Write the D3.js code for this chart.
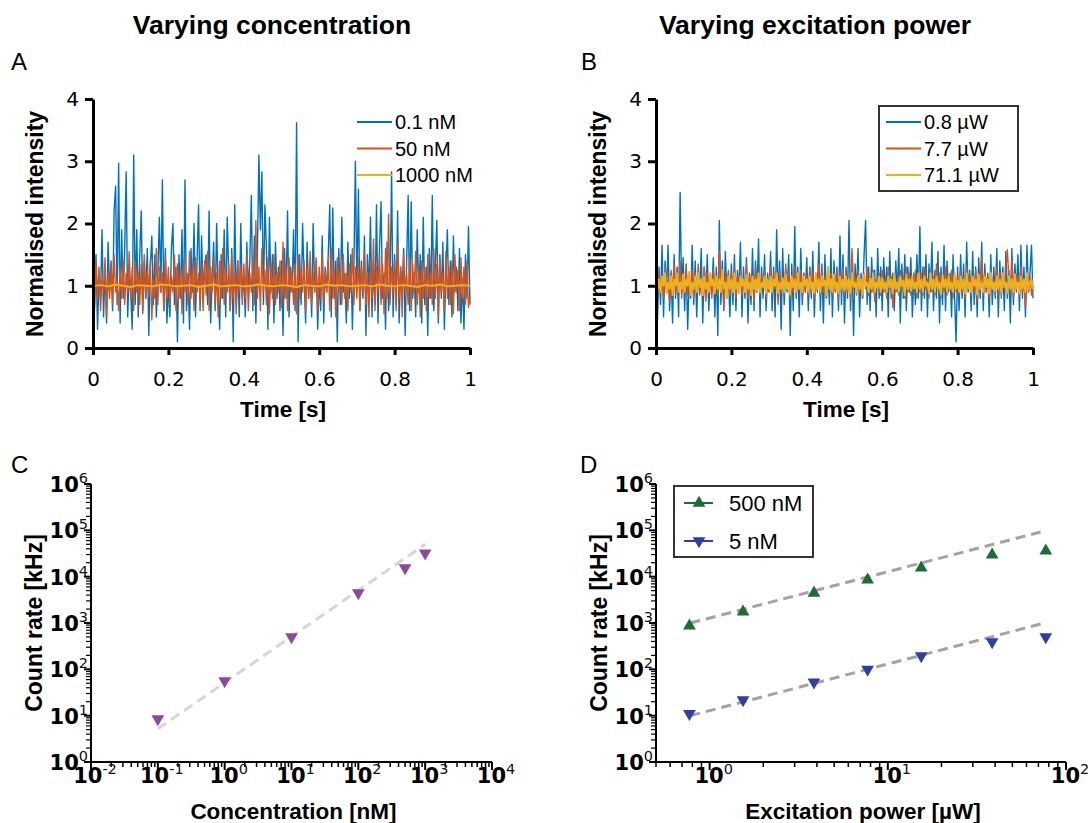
<!DOCTYPE html>
<html>
<head>
<meta charset="utf-8">
<script src="https://cdn.jsdelivr.net/npm/d3@7"></script>
<style>
  body { margin: 0; background: #fff; }
  text { font-family: "Liberation Sans", Arial, Helvetica, sans-serif; }
  text.tick-lbl, .tick text { font-family: "DejaVu Sans", Verdana, sans-serif; }
</style>
</head>
<body>
<svg id="fig" width="1088" height="823"></svg>
<script>
// ---- data ----
var timeTicks = [0, 0.2, 0.4, 0.6, 0.8, 1];
var timeTickLabels = ["0", "0.2", "0.4", "0.6", "0.8", "1"];
var intensityTicks = [0, 1, 2, 3, 4];
var intensityTickLabels = ["0", "1", "2", "3", "4"];

// panel A, normalised intensity traces over 1 s
var concNames = ["0.1 nM", "50 nM", "1000 nM"];
var conc01 = [
  1.2,0.6,1.5,0.3,1.1,0.8,1.9,0.5,1.3,0.4,1.7,0.9,1.4,0.6,2.2,2.6,0.7,2.97,0.4,1.9,0.8,1.6,2.83,0.5,1.2,
  0.9,0.3,3.1,0.7,1.9,0.5,1.5,2.2,0.6,1.4,0.8,1.6,0.2,1.3,1.8,0.7,1.5,0.5,1.2,2.1,0.9,2.7,0.6,1.6,0.4,
  1.0,0.5,1.6,2.0,0.7,1.3,0.1,1.5,0.8,1.9,0.4,2.7,0.6,1.2,0.3,1.6,0.9,2.0,0.5,1.4,2.3,0.6,1.8,0.9,1.3,
  1.5,0.7,2.2,0.4,1.1,1.7,0.6,2.0,0.9,0.3,1.5,0.8,1.9,0.5,2.1,1.2,0.6,1.6,0.1,2.3,0.7,1.4,0.5,2.0,0.8,
  1.2,0.5,1.7,0.9,1.4,2.45,0.6,1.8,0.4,1.5,3.1,1.9,2.83,0.7,2.3,1.6,0.3,2.1,0.9,1.5,0.4,1.7,0.8,1.3,0.6,
  1.4,0.2,1.6,0.8,2.2,0.5,1.3,0.9,1.9,0.6,3.62,0.1,1.5,0.7,2.0,1.1,0.4,1.7,0.8,1.3,0.5,2.0,0.9,1.4,0.3,
  1.1,0.6,1.8,0.4,1.3,0.9,1.5,2.3,0.5,2.25,0.8,1.4,0.1,1.6,0.7,2.1,0.9,1.2,0.4,1.7,0.8,1.5,0.3,1.3,3.0,
  0.9,2.55,0.6,1.4,0.8,1.8,0.2,1.5,0.9,2.1,0.5,1.3,0.7,2.3,0.4,1.6,2.35,0.8,1.2,0.3,1.7,0.6,1.0,2.83,0.5,
  1.5,0.7,2.2,0.4,1.3,0.9,1.6,0.2,1.4,2.45,0.6,2.35,0.8,1.2,0.5,1.9,0.9,1.5,0.4,2.1,0.7,1.3,0.2,1.6,0.8,
  2.45,0.6,1.3,2.05,0.4,1.5,0.8,1.7,0.3,1.2,1.9,0.7,1.4,0.5,1.8,0.9,1.3,0.6,1.6,0.4,1.1,0.3,1.5,0.8,1.95,0.7
];
var conc50 = [
  1.2,0.7,1.4,0.8,1.3,0.6,1.1,0.9,1.45,0.5,1.2,0.8,1.35,0.7,1.5,0.9,1.1,0.6,1.3,0.8,1.4,0.7,1.2,0.9,1.55,
  0.8,1.3,0.6,1.4,0.9,1.2,0.7,1.35,0.55,1.5,0.8,1.25,0.9,1.4,0.45,1.1,0.8,1.6,0.7,1.3,0.9,1.2,0.6,1.45,0.8,
  1.3,0.7,1.15,0.9,1.5,0.6,1.35,0.8,1.25,0.55,1.4,0.9,1.2,0.7,1.55,0.8,1.3,0.6,1.45,0.9,1.2,0.75,1.35,0.6,1.4,
  0.85,1.55,0.6,1.3,0.9,1.45,0.7,1.2,0.5,1.4,0.8,1.6,0.7,1.25,0.9,1.35,0.6,1.5,0.8,1.2,0.55,1.4,0.9,1.3,0.7,
  1.35,0.8,1.5,0.6,1.2,0.9,1.4,0.7,2.05,0.8,1.3,0.6,1.6,0.9,1.25,0.7,1.45,0.55,1.3,0.8,1.5,0.7,1.2,0.9,1.4,
  0.65,1.7,0.8,1.3,0.6,1.45,0.9,1.2,0.7,1.35,0.55,1.5,0.8,1.25,0.9,1.4,0.6,1.3,0.8,1.55,0.7,1.2,0.9,1.45,0.6,
  1.3,0.8,1.5,0.7,1.2,0.9,1.4,0.6,1.6,0.8,1.25,0.5,1.45,0.9,1.3,0.7,1.5,0.8,1.2,0.6,1.35,0.9,1.6,0.7,1.3,
  0.8,1.45,0.6,1.3,0.9,1.55,0.7,1.2,0.5,1.4,0.8,1.75,0.6,1.3,0.9,1.5,0.7,1.35,0.55,1.6,0.8,2.15,0.7,1.3,0.9,
  1.4,0.6,1.65,0.8,1.3,0.5,1.5,0.9,1.2,0.7,1.45,0.6,1.35,0.9,1.55,0.7,1.25,0.5,1.4,0.8,1.3,0.6,1.5,0.8,1.2,
  0.7,1.6,0.8,1.35,0.5,1.45,0.9,1.2,0.6,1.55,0.8,1.3,0.7,1.4,0.55,1.5,0.9,1.25,0.6,1.45,0.8,1.3,0.7,1.4,0.65,0.85
];
var conc1000 = [
  1.00,1.01,0.99,1.02,1.00,0.98,1.01,1.00,0.99,1.02,1.01,0.99,1.00,1.01,0.98,1.00,1.02,0.99,1.00,1.01,0.99,1.00,1.02,1.00,0.99,
  1.01,1.00,0.98,1.01,1.00,0.99,1.02,1.00,1.01,0.99,1.00,1.01,0.99,1.02,1.00,0.99,1.01,1.00,0.98,1.01,1.00,1.02,0.99,1.00,1.01,1.00
];

// panel B, normalised intensity traces over 1 s
var powNames = ["0.8 \u00b5W", "7.7 \u00b5W", "71.1 \u00b5W"];
var pow08 = [
  1.0,0.45,1.3,0.7,1.65,0.5,1.4,0.9,1.65,0.6,1.2,0.4,1.5,0.8,1.3,0.5,2.5,0.9,1.45,0.6,1.35,0.3,1.1,0.8,1.65,
  0.7,1.4,0.5,1.25,0.9,1.6,0.4,1.3,0.8,1.5,0.6,1.2,0.9,1.45,0.5,1.3,0.2,2.05,0.7,1.4,0.6,1.55,0.8,1.2,0.5,
  1.35,0.7,1.5,0.6,1.25,0.9,1.7,0.5,1.3,0.8,1.45,0.4,1.2,0.7,1.6,0.6,1.4,0.9,1.75,0.5,1.3,0.8,1.5,0.6,1.2,
  0.9,1.55,0.6,1.3,0.5,1.9,0.8,1.4,0.3,1.6,0.7,1.25,0.9,1.5,0.2,1.35,0.6,1.95,0.8,1.3,0.5,1.6,0.7,1.2,0.9,
  1.45,0.6,1.3,0.8,1.55,0.5,1.2,0.9,1.7,0.6,1.35,0.4,1.5,0.8,1.25,0.7,1.6,0.5,1.4,0.9,1.3,0.6,1.8,0.7,1.5,
  0.4,1.3,0.8,2.05,0.6,1.45,0.2,1.35,0.9,1.6,0.5,1.2,0.8,1.5,2.05,0.7,1.3,0.6,1.45,0.9,1.25,0.5,1.6,0.8,1.3,
  0.6,1.45,0.9,1.3,0.5,1.55,0.8,1.2,0.6,1.4,0.9,1.6,0.4,1.35,0.8,1.5,0.6,1.3,0.9,1.45,0.5,1.2,0.7,1.5,0.8,
  1.95,0.6,1.3,0.8,1.5,0.5,1.35,0.9,1.7,0.6,1.25,0.8,1.55,0.4,1.3,0.7,1.65,0.6,1.4,0.9,1.2,0.5,1.5,0.8,0.1,
  1.3,0.6,1.5,0.8,1.35,0.5,1.7,0.9,1.25,0.6,1.55,0.7,1.3,0.5,1.45,0.8,1.7,0.6,1.35,0.9,1.2,0.5,1.5,0.7,1.3,
  0.8,1.6,0.5,1.4,0.9,1.3,0.6,1.55,0.8,1.25,0.4,1.6,0.7,1.35,0.9,1.5,0.6,1.65,0.8,1.3,0.5,1.65,0.9,1.2,1.65,0.8
];
var pow77 = [
  1.05,0.85,1.2,0.9,1.15,0.8,1.3,0.95,1.1,0.75,1.25,0.9,1.35,0.85,1.2,0.95,1.4,0.8,1.15,0.9,1.3,0.85,1.1,0.95,1.25,
  0.8,1.2,0.9,1.35,0.85,1.1,0.95,1.3,0.75,1.2,0.9,1.15,0.8,1.25,0.95,1.1,0.85,1.55,0.9,1.2,0.65,1.15,0.95,1.25,0.85,
  1.2,0.9,1.3,0.8,1.15,0.95,1.25,0.85,1.1,0.9,1.35,0.8,1.2,0.95,1.1,0.75,1.3,0.9,1.2,0.85,1.15,0.95,1.25,0.8,1.1,
  0.9,1.3,0.85,1.2,0.95,1.15,0.7,1.25,0.9,1.1,0.85,1.35,0.95,1.2,0.8,1.15,0.9,1.3,0.85,1.1,0.95,1.25,0.8,1.2,0.9,
  1.15,0.85,1.3,0.9,1.2,0.8,1.1,0.95,1.35,0.85,1.25,0.9,1.15,0.8,1.3,0.95,1.2,0.85,1.1,0.9,1.25,0.8,1.15,0.95,1.3,
  0.85,1.2,0.9,1.1,0.8,1.6,0.95,1.15,0.85,1.25,0.9,1.1,0.8,1.2,0.95,1.3,0.85,1.15,0.9,1.25,0.75,1.1,0.95,1.2,0.85,
  1.25,0.9,1.1,0.8,1.3,0.95,1.15,0.65,1.2,0.9,1.1,0.85,1.25,0.95,1.15,0.8,1.3,0.9,1.2,0.85,1.1,0.95,1.25,0.8,1.15,
  0.9,1.2,0.85,1.3,0.95,1.1,0.8,1.25,0.9,1.15,0.85,1.35,0.95,1.2,0.8,1.1,0.9,1.3,0.85,1.15,0.95,1.25,0.8,1.2,0.9,
  1.15,0.85,1.25,0.9,1.1,0.8,1.3,0.95,1.2,0.85,1.15,0.9,1.25,0.75,1.1,0.95,1.45,0.85,1.2,0.9,1.15,0.8,1.25,0.95,1.1,
  0.85,1.3,0.9,1.2,0.8,1.15,0.95,1.25,1.58,1.1,0.9,1.4,0.8,1.2,0.95,1.15,0.85,1.3,0.9,1.1,0.65,1.25,0.9,1.15,0.85,1.0
];
var pow711 = [
  1.3,0.95,1.1,0.9,1.15,1.0,1.2,0.88,1.05,0.95,1.15,0.85,1.1,1.0,1.2,0.9,1.05,0.95,1.18,0.9,1.1,1.0,1.22,0.85,1.05,
  0.95,1.15,0.9,1.2,0.98,1.1,0.85,1.15,0.95,1.05,0.9,1.2,1.0,1.1,0.88,1.15,0.95,1.1,0.9,1.25,0.95,1.05,0.82,1.15,0.95,
  1.1,0.9,1.2,0.95,1.05,0.88,1.15,1.0,1.1,0.9,1.18,0.95,1.05,0.85,1.15,0.95,1.1,0.92,1.2,0.9,1.05,0.98,1.15,0.88,1.1,
  0.95,1.15,0.9,1.1,1.0,1.2,0.88,1.05,0.95,1.12,0.9,1.18,0.95,1.05,0.86,1.15,0.98,1.1,0.9,1.2,0.95,1.05,0.9,1.15,1.0,
  1.1,0.9,1.15,0.95,1.05,0.88,1.2,0.95,1.1,0.9,1.15,1.0,1.08,0.85,1.3,0.95,1.1,0.9,1.18,0.96,1.05,0.88,1.15,0.95,1.1,
  0.92,1.15,0.95,1.1,0.88,1.2,0.98,1.05,0.9,1.15,0.95,1.1,0.86,1.18,1.0,1.05,0.9,1.12,0.95,1.2,0.9,1.05,0.96,1.15,0.9,
  1.12,0.95,1.05,0.9,1.15,0.98,1.1,0.88,1.2,0.95,1.05,0.9,1.15,1.0,1.08,0.85,1.18,0.95,1.1,0.92,1.15,0.96,1.05,0.9,1.2,
  0.95,1.1,0.9,1.15,1.0,1.05,0.88,1.2,0.95,1.1,0.9,1.15,0.96,1.05,0.86,1.18,0.98,1.1,0.9,1.15,0.95,1.05,0.9,1.2,0.95,
  1.08,0.9,1.15,0.95,1.1,0.88,1.2,0.96,1.05,0.9,1.15,1.0,1.1,0.86,1.18,0.95,1.05,0.9,1.15,0.98,1.1,0.88,1.2,0.95,1.05,
  0.92,1.15,0.95,1.1,0.9,1.2,0.98,1.05,0.88,1.15,0.95,1.1,0.9,1.18,0.96,1.05,0.88,1.15,0.95,1.1,0.9,1.2,0.95,1.05,1.1,0.95
];

// panel C, count rate vs concentration
var concValues = [0.1, 1, 10, 100, 500, 1000];
var concRates = [8.5, 56, 500, 4450, 15500, 32000];
var concFitX = [0.1, 1000];
var concFitY = [5.2, 50000];
var concAxisTicks = [1e-2, 1e-1, 1e0, 1e1, 1e2, 1e3, 1e4];

// panel D, count rate vs excitation power
var powValues = [0.77, 1.54, 3.85, 7.7, 15.4, 38.5, 77];
var rate500 = [870, 1740, 4450, 8500, 15500, 29500, 36000];
var rate5 = [11, 22, 53, 100, 195, 390, 500];
var powFitX = [0.78, 72];
var fit500 = [1000, 92000];
var fit5 = [10, 950];
var powAxisTicks = [1e0, 1e1, 1e2];
var rateTicks = [1e0, 1e1, 1e2, 1e3, 1e4, 1e5, 1e6];

var traceColors = ["#0072bd", "#d95319", "#edb120"];
var traceWidths = [1.4, 1.4, 2];

var svg = d3.select("#fig");
svg.append("rect").attr("width", 1088).attr("height", 823).attr("fill", "#fff");

// ---- headings ----
svg.append("text").attr("x", 272).attr("y", 34).attr("text-anchor", "middle")
  .attr("font-size", 26.5).attr("font-weight", "bold").text("Varying concentration");
svg.append("text").attr("x", 815).attr("y", 34).attr("text-anchor", "middle")
  .attr("font-size", 26.5).attr("font-weight", "bold").text("Varying excitation power");

[["A", 11, 70], ["B", 581, 70], ["C", 11, 473], ["D", 580, 473]].forEach(function(p) {
  svg.append("text").attr("x", p[1]).attr("y", p[2]).attr("font-size", 24).text(p[0]);
});

// ---- helpers ----
function styleAxis(g, w) {
  g.attr("font-family", null).attr("font-size", null);
  g.select(".domain").attr("stroke", "#000").attr("stroke-width", w);
  g.selectAll(".tick line").attr("stroke", "#000").attr("stroke-width", w);
  g.selectAll(".tick text").attr("font-size", 20).attr("fill", "#000");
}

function traceChart(x0, yName, xName, series, names, legendBox) {
  var x = d3.scaleLinear().domain([0, 1]).range([x0, x0 + 377]);
  var y = d3.scaleLinear().domain([0, 4]).range([348, 99]);
  var g = svg.append("g");

  series.forEach(function(vals, k) {
    var line = d3.line()
      .x(function(d, i) { return x(i / (vals.length - 1)); })
      .y(function(d) { return y(d); });
    g.append("path").datum(vals).attr("d", line).attr("fill", "none")
      .attr("stroke", traceColors[k]).attr("stroke-width", traceWidths[k]).attr("stroke-linejoin", "round");
  });

  var gx = g.append("g").attr("transform", "translate(0," + y(0) + ")")
    .call(d3.axisBottom(x).tickValues(timeTicks)
      .tickFormat(function(d, i) { return timeTickLabels[i]; })
      .tickSize(7).tickSizeOuter(0).tickPadding(17));
  styleAxis(gx, 3);
  var gy = g.append("g").attr("transform", "translate(" + x0 + ",0)")
    .call(d3.axisLeft(y).tickValues(intensityTicks)
      .tickFormat(function(d, i) { return intensityTickLabels[i]; })
      .tickSize(8).tickSizeOuter(0).tickPadding(6));
  styleAxis(gy, 3);

  g.append("text").attr("transform", "translate(" + (x0 - 50) + ",224) rotate(-90)")
    .attr("text-anchor", "middle").attr("font-size", 23).attr("font-weight", "bold").text(yName);
  g.append("text").attr("x", x0 + 190).attr("y", 417).attr("text-anchor", "middle")
    .attr("font-size", 22.5).attr("font-weight", "bold").text(xName);

  // legend
  var lx = legendBox ? x0 + 230 : x0 + 264;
  if (legendBox) {
    g.append("rect").attr("x", x0 + 223).attr("y", 106).attr("width", 139).attr("height", 85)
      .attr("fill", "#fff").attr("stroke", "#333").attr("stroke-width", 2);
  }
  names.forEach(function(n, k) {
    var ly = 122 + k * 26.5;
    g.append("line").attr("x1", lx).attr("x2", lx + 35).attr("y1", ly).attr("y2", ly)
      .attr("stroke", traceColors[k]).attr("stroke-width", 2);
    g.append("text").attr("x", lx + 38).attr("y", ly + 7).attr("font-size", 20).text(n);
  });
}

function logLabel(g, x, y, value, anchor) {
  var t = g.append("text").attr("class", "tick-lbl").attr("x", x).attr("y", y)
    .attr("text-anchor", anchor).attr("font-size", 21).attr("font-weight", "bold");
  t.append("tspan").text("10");
  t.append("tspan").attr("dy", -9).attr("font-size", 14.5).attr("font-weight", "normal")
    .attr("fill", "#111").text(String(Math.round(Math.log10(value))));
}

function logAxes(g, x, y, xTicks, yName, xName) {
  var x0 = x.range()[0], x1 = x.range()[1];
  var y0 = y.range()[0], y1 = y.range()[1];
  // y axis with minor ticks
  var yMinor = [];
  for (var k = 0; k < rateTicks.length - 1; k++) {
    for (var m = 2; m <= 9; m++) yMinor.push(rateTicks[k] * m);
  }
  g.selectAll(".ymin").data(yMinor).enter().append("line")
    .attr("x1", x0 - 5).attr("x2", x0).attr("y1", function(d) { return y(d); })
    .attr("y2", function(d) { return y(d); }).attr("stroke", "#000").attr("stroke-width", 1.2);
  g.selectAll(".ymaj").data(rateTicks).enter().append("line")
    .attr("x1", x0 - 7).attr("x2", x0).attr("y1", function(d) { return y(d); })
    .attr("y2", function(d) { return y(d); }).attr("stroke", "#000").attr("stroke-width", 2);
  rateTicks.forEach(function(v) { logLabel(g, x0 - 3, y(v) + 8, v, "end"); });

  // x axis with minor ticks
  var dom = x.domain();
  var xMinor = [];
  for (var e = Math.floor(Math.log10(dom[0])); e < Math.log10(dom[1]); e++) {
    for (var m2 = 2; m2 <= 9; m2++) {
      var v = m2 * Math.pow(10, e);
      if (v >= dom[0] && v <= dom[1]) xMinor.push(v);
    }
  }
  g.selectAll(".xmin").data(xMinor).enter().append("line")
    .attr("x1", function(d) { return x(d); }).attr("x2", function(d) { return x(d); })
    .attr("y1", y0).attr("y2", y0 + 5)
    .attr("stroke", "#000").attr("stroke-width", 1.5);
  g.selectAll(".xmaj").data(xTicks).enter().append("line")
    .attr("x1", function(d) { return x(d); }).attr("x2", function(d) { return x(d); })
    .attr("y1", y0).attr("y2", y0 + 8).attr("stroke", "#000").attr("stroke-width", 2);
  xTicks.forEach(function(v) { logLabel(g, x(v) + 4, 783, v, "middle"); });

  g.append("line").attr("x1", x0).attr("x2", x0).attr("y1", y0).attr("y2", y1)
    .attr("stroke", "#000").attr("stroke-width", 2);
  g.append("line").attr("x1", x0).attr("x2", x1).attr("y1", y0).attr("y2", y0)
    .attr("stroke", "#000").attr("stroke-width", 2);

  g.append("text").attr("transform", "translate(" + (x0 - 49) + ",623) rotate(-90)")
    .attr("text-anchor", "middle").attr("font-size", 23).attr("font-weight", "bold").text(yName);
  g.append("text").attr("x", (x0 + x1) / 2 + 2).attr("y", 819).attr("text-anchor", "middle")
    .attr("font-size", 22.5).attr("font-weight", "bold").text(xName);
}

function fitLine(g, x, y, xs, ys, color) {
  g.append("path").datum(d3.zip(xs, ys))
    .attr("d", d3.line().x(function(d) { return x(d[0]); }).y(function(d) { return y(d[1]); }))
    .attr("fill", "none").attr("stroke", color).attr("stroke-width", 3).attr("stroke-dasharray", "10,6");
}

function markers(g, x, y, xs, ys, color, down) {
  g.selectAll(null).data(d3.zip(xs, ys)).enter().append("path")
    .attr("d", d3.symbol(d3.symbolTriangle, 70))
    .attr("transform", function(d) {
      return "translate(" + x(d[0]) + "," + y(d[1]) + ")" + (down ? " rotate(180)" : "");
    })
    .attr("fill", color);
}

// ---- panels A and B ----
traceChart(93, "Normalised intensity", "Time [s]", [conc01, conc50, conc1000], concNames, false);
traceChart(656, "Normalised intensity", "Time [s]", [pow08, pow77, pow711], powNames, true);

// ---- panel C ----
var xC = d3.scaleLog().domain([1e-2, 1e4]).range([91, 492]);
var yC = d3.scaleLog().domain([1, 1e6]).range([762, 484]);
var gC = svg.append("g");
fitLine(gC, xC, yC, concFitX, concFitY, "#d6d6d6");
markers(gC, xC, yC, concValues, concRates, "#8b4a9f", true);
logAxes(gC, xC, yC, concAxisTicks, "Count rate [kHz]", "Concentration [nM]");

// ---- panel D ----
var xD = d3.scaleLog().domain([0.5, 100]).range([656, 1066]);
var yD = d3.scaleLog().domain([1, 1e6]).range([762, 484]);
var gD = svg.append("g");
fitLine(gD, xD, yD, powFitX, fit500, "#a3a3a3");
fitLine(gD, xD, yD, powFitX, fit5, "#a3a3a3");
markers(gD, xD, yD, powValues, rate500, "#1f6b36", false);
markers(gD, xD, yD, powValues, rate5, "#2e3f9f", true);
logAxes(gD, xD, yD, powAxisTicks, "Count rate [kHz]", "Excitation power [\u00b5W]");

// legend D
var legD = gD.append("g");
legD.append("rect").attr("x", 674).attr("y", 486).attr("width", 139).attr("height", 71)
  .attr("fill", "#fff").attr("stroke", "#333").attr("stroke-width", 2);
[["500 nM", "#1f6b36", false, 503], ["5 nM", "#2e3f9f", true, 541]].forEach(function(r) {
  legD.append("line").attr("x1", 684).attr("x2", 713).attr("y1", r[3]).attr("y2", r[3])
    .attr("stroke", r[1]).attr("stroke-width", 2);
  legD.append("path").attr("d", d3.symbol(d3.symbolTriangle, 70))
    .attr("transform", "translate(699," + r[3] + ")" + (r[2] ? " rotate(180)" : ""))
    .attr("fill", r[1]);
  legD.append("text").attr("x", 729).attr("y", r[3] + 8).attr("font-size", 22).text(r[0]);
});
</script>
</body>
</html>
